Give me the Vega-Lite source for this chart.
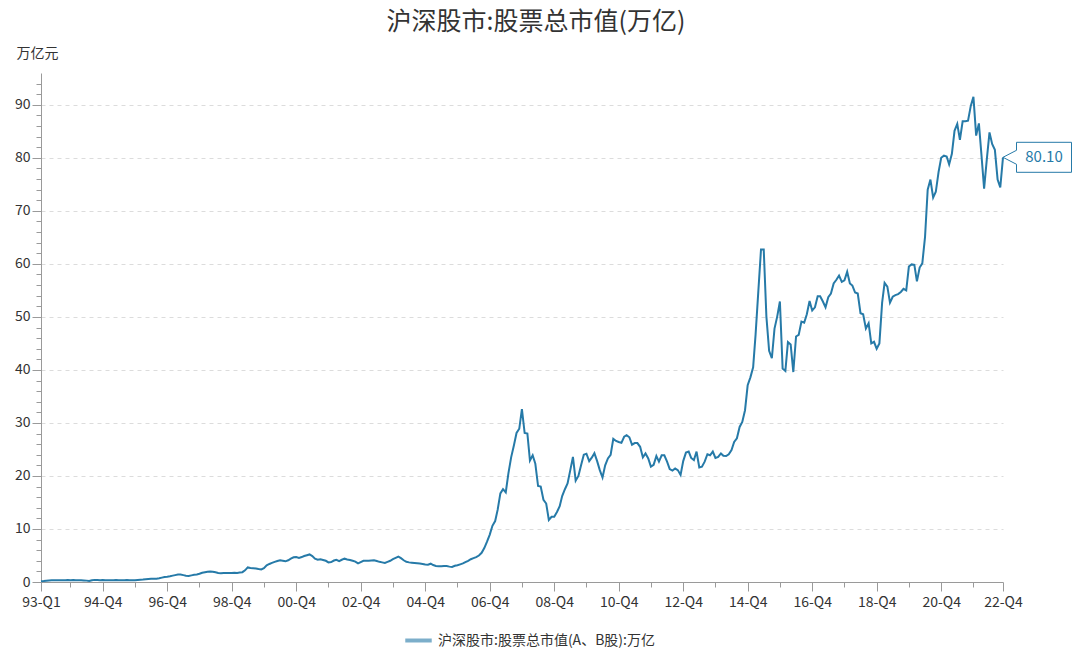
{
"$schema": "https://vega.github.io/schema/vega-lite/v6.json",
"width": 962, "height": 509,
"autosize": {"type": "none"},
"padding": {"left": 41, "top": 73, "right": 77, "bottom": 68},
"background": "white",
"config": {"font": "Noto Sans CJK SC", "view": {"stroke": null}},
"title": {"text": "沪深股市:股票总市值(万亿)", "fontSize": 25, "fontWeight": "normal", "color": "#333333", "anchor": "middle", "dx": 14, "offset": 11},
"data": {"format": {"parse": {"date": "date:'%Y-%m'"}}, "values": [
{"date":"1993-01","value":0.12},{"date":"1993-02","value":0.18},{"date":"1993-03","value":0.25},{"date":"1993-04","value":0.3},{"date":"1993-05","value":0.33},{"date":"1993-06","value":0.32},{"date":"1993-07","value":0.31},{"date":"1993-08","value":0.32},{"date":"1993-09","value":0.33},{"date":"1993-10","value":0.35},{"date":"1993-11","value":0.36},{"date":"1993-12","value":0.35},
{"date":"1994-01","value":0.36},{"date":"1994-02","value":0.34},{"date":"1994-03","value":0.33},{"date":"1994-04","value":0.31},{"date":"1994-05","value":0.3},{"date":"1994-06","value":0.26},{"date":"1994-07","value":0.18},{"date":"1994-08","value":0.34},{"date":"1994-09","value":0.4},{"date":"1994-10","value":0.37},{"date":"1994-11","value":0.35},{"date":"1994-12","value":0.37},
{"date":"1995-01","value":0.35},{"date":"1995-02","value":0.33},{"date":"1995-03","value":0.33},{"date":"1995-04","value":0.34},{"date":"1995-05","value":0.38},{"date":"1995-06","value":0.35},{"date":"1995-07","value":0.34},{"date":"1995-08","value":0.35},{"date":"1995-09","value":0.36},{"date":"1995-10","value":0.35},{"date":"1995-11","value":0.33},{"date":"1995-12","value":0.34},
{"date":"1996-01","value":0.38},{"date":"1996-02","value":0.42},{"date":"1996-03","value":0.46},{"date":"1996-04","value":0.52},{"date":"1996-05","value":0.56},{"date":"1996-06","value":0.6},{"date":"1996-07","value":0.62},{"date":"1996-08","value":0.63},{"date":"1996-09","value":0.7},{"date":"1996-10","value":0.82},{"date":"1996-11","value":0.95},{"date":"1996-12","value":1.0},
{"date":"1997-01","value":1.08},{"date":"1997-02","value":1.2},{"date":"1997-03","value":1.3},{"date":"1997-04","value":1.4},{"date":"1997-05","value":1.4},{"date":"1997-06","value":1.3},{"date":"1997-07","value":1.2},{"date":"1997-08","value":1.15},{"date":"1997-09","value":1.25},{"date":"1997-10","value":1.35},{"date":"1997-11","value":1.4},{"date":"1997-12","value":1.55},
{"date":"1998-01","value":1.75},{"date":"1998-02","value":1.85},{"date":"1998-03","value":1.95},{"date":"1998-04","value":2.0},{"date":"1998-05","value":1.95},{"date":"1998-06","value":1.85},{"date":"1998-07","value":1.7},{"date":"1998-08","value":1.65},{"date":"1998-09","value":1.7},{"date":"1998-10","value":1.72},{"date":"1998-11","value":1.7},{"date":"1998-12","value":1.7},
{"date":"1999-01","value":1.75},{"date":"1999-02","value":1.72},{"date":"1999-03","value":1.8},{"date":"1999-04","value":1.85},{"date":"1999-05","value":2.2},{"date":"1999-06","value":2.75},{"date":"1999-07","value":2.65},{"date":"1999-08","value":2.6},{"date":"1999-09","value":2.55},{"date":"1999-10","value":2.45},{"date":"1999-11","value":2.38},{"date":"1999-12","value":2.6},
{"date":"2000-01","value":3.15},{"date":"2000-02","value":3.4},{"date":"2000-03","value":3.6},{"date":"2000-04","value":3.8},{"date":"2000-05","value":3.95},{"date":"2000-06","value":4.1},{"date":"2000-07","value":4.0},{"date":"2000-08","value":3.9},{"date":"2000-09","value":4.1},{"date":"2000-10","value":4.4},{"date":"2000-11","value":4.65},{"date":"2000-12","value":4.7},
{"date":"2001-01","value":4.55},{"date":"2001-02","value":4.7},{"date":"2001-03","value":4.9},{"date":"2001-04","value":5.05},{"date":"2001-05","value":5.2},{"date":"2001-06","value":4.9},{"date":"2001-07","value":4.4},{"date":"2001-08","value":4.2},{"date":"2001-09","value":4.3},{"date":"2001-10","value":4.15},{"date":"2001-11","value":4.0},{"date":"2001-12","value":3.7},
{"date":"2002-01","value":3.75},{"date":"2002-02","value":4.05},{"date":"2002-03","value":4.2},{"date":"2002-04","value":3.95},{"date":"2002-05","value":4.2},{"date":"2002-06","value":4.4},{"date":"2002-07","value":4.25},{"date":"2002-08","value":4.15},{"date":"2002-09","value":4.0},{"date":"2002-10","value":3.85},{"date":"2002-11","value":3.5},{"date":"2002-12","value":3.75},
{"date":"2003-01","value":4.0},{"date":"2003-02","value":4.0},{"date":"2003-03","value":4.0},{"date":"2003-04","value":4.05},{"date":"2003-05","value":4.1},{"date":"2003-06","value":3.95},{"date":"2003-07","value":3.8},{"date":"2003-08","value":3.7},{"date":"2003-09","value":3.6},{"date":"2003-10","value":3.8},{"date":"2003-11","value":4.0},{"date":"2003-12","value":4.3},
{"date":"2004-01","value":4.55},{"date":"2004-02","value":4.8},{"date":"2004-03","value":4.5},{"date":"2004-04","value":4.1},{"date":"2004-05","value":3.8},{"date":"2004-06","value":3.7},{"date":"2004-07","value":3.65},{"date":"2004-08","value":3.6},{"date":"2004-09","value":3.55},{"date":"2004-10","value":3.5},{"date":"2004-11","value":3.4},{"date":"2004-12","value":3.3},
{"date":"2005-01","value":3.27},{"date":"2005-02","value":3.45},{"date":"2005-03","value":3.2},{"date":"2005-04","value":3.02},{"date":"2005-05","value":2.98},{"date":"2005-06","value":2.96},{"date":"2005-07","value":3.0},{"date":"2005-08","value":3.02},{"date":"2005-09","value":2.9},{"date":"2005-10","value":2.83},{"date":"2005-11","value":3.05},{"date":"2005-12","value":3.15},
{"date":"2006-01","value":3.33},{"date":"2006-02","value":3.5},{"date":"2006-03","value":3.75},{"date":"2006-04","value":4.0},{"date":"2006-05","value":4.3},{"date":"2006-06","value":4.5},{"date":"2006-07","value":4.7},{"date":"2006-08","value":5.0},{"date":"2006-09","value":5.5},{"date":"2006-10","value":6.4},{"date":"2006-11","value":7.6},{"date":"2006-12","value":8.9},
{"date":"2007-01","value":10.6},{"date":"2007-02","value":11.5},{"date":"2007-03","value":13.6},{"date":"2007-04","value":16.7},{"date":"2007-05","value":17.5},{"date":"2007-06","value":16.9},{"date":"2007-07","value":20.5},{"date":"2007-08","value":23.5},{"date":"2007-09","value":25.75},{"date":"2007-10","value":28.1},{"date":"2007-11","value":28.9},{"date":"2007-12","value":32.6},
{"date":"2008-01","value":28.1},{"date":"2008-02","value":28.0},{"date":"2008-03","value":22.9},{"date":"2008-04","value":23.9},{"date":"2008-05","value":22.3},{"date":"2008-06","value":18.1},{"date":"2008-07","value":18.0},{"date":"2008-08","value":15.5},{"date":"2008-09","value":14.8},{"date":"2008-10","value":11.7},{"date":"2008-11","value":12.3},{"date":"2008-12","value":12.3},
{"date":"2009-01","value":13.2},{"date":"2009-02","value":14.3},{"date":"2009-03","value":16.2},{"date":"2009-04","value":17.5},{"date":"2009-05","value":18.6},{"date":"2009-06","value":21.1},{"date":"2009-07","value":23.6},{"date":"2009-08","value":19.1},{"date":"2009-09","value":20.0},{"date":"2009-10","value":22.0},{"date":"2009-11","value":24.0},{"date":"2009-12","value":24.2},
{"date":"2010-01","value":22.8},{"date":"2010-02","value":23.5},{"date":"2010-03","value":24.3},{"date":"2010-04","value":22.8},{"date":"2010-05","value":21.1},{"date":"2010-06","value":19.7},{"date":"2010-07","value":22.0},{"date":"2010-08","value":23.3},{"date":"2010-09","value":24.0},{"date":"2010-10","value":27.0},{"date":"2010-11","value":26.6},{"date":"2010-12","value":26.4},
{"date":"2011-01","value":26.25},{"date":"2011-02","value":27.4},{"date":"2011-03","value":27.7},{"date":"2011-04","value":27.3},{"date":"2011-05","value":25.9},{"date":"2011-06","value":26.2},{"date":"2011-07","value":26.2},{"date":"2011-08","value":25.5},{"date":"2011-09","value":23.5},{"date":"2011-10","value":24.25},{"date":"2011-11","value":23.3},{"date":"2011-12","value":21.75},
{"date":"2012-01","value":22.1},{"date":"2012-02","value":23.75},{"date":"2012-03","value":22.7},{"date":"2012-04","value":23.9},{"date":"2012-05","value":23.9},{"date":"2012-06","value":22.7},{"date":"2012-07","value":21.3},{"date":"2012-08","value":21.0},{"date":"2012-09","value":21.4},{"date":"2012-10","value":21.1},{"date":"2012-11","value":20.2},{"date":"2012-12","value":22.8},
{"date":"2013-01","value":24.4},{"date":"2013-02","value":24.6},{"date":"2013-03","value":23.4},{"date":"2013-04","value":23.0},{"date":"2013-05","value":24.6},{"date":"2013-06","value":21.6},{"date":"2013-07","value":21.75},{"date":"2013-08","value":22.7},{"date":"2013-09","value":24.1},{"date":"2013-10","value":23.9},{"date":"2013-11","value":24.6},{"date":"2013-12","value":23.4},
{"date":"2014-01","value":23.6},{"date":"2014-02","value":24.25},{"date":"2014-03","value":23.8},{"date":"2014-04","value":23.75},{"date":"2014-05","value":24.1},{"date":"2014-06","value":24.9},{"date":"2014-07","value":26.4},{"date":"2014-08","value":27.1},{"date":"2014-09","value":29.25},{"date":"2014-10","value":30.2},{"date":"2014-11","value":32.4},{"date":"2014-12","value":37.1},
{"date":"2015-01","value":38.6},{"date":"2015-02","value":40.5},{"date":"2015-03","value":46.75},{"date":"2015-04","value":54.9},{"date":"2015-05","value":62.7},{"date":"2015-06","value":62.7},{"date":"2015-07","value":50.1},{"date":"2015-08","value":43.6},{"date":"2015-09","value":42.2},{"date":"2015-10","value":47.8},{"date":"2015-11","value":50.1},{"date":"2015-12","value":52.9},
{"date":"2016-01","value":40.25},{"date":"2016-02","value":39.8},{"date":"2016-03","value":45.25},{"date":"2016-04","value":44.8},{"date":"2016-05","value":39.6},{"date":"2016-06","value":46.3},{"date":"2016-07","value":46.6},{"date":"2016-08","value":49.1},{"date":"2016-09","value":48.9},{"date":"2016-10","value":50.5},{"date":"2016-11","value":53.0},{"date":"2016-12","value":51.2},
{"date":"2017-01","value":51.8},{"date":"2017-02","value":53.9},{"date":"2017-03","value":53.9},{"date":"2017-04","value":52.9},{"date":"2017-05","value":51.8},{"date":"2017-06","value":53.7},{"date":"2017-07","value":54.4},{"date":"2017-08","value":56.3},{"date":"2017-09","value":57.0},{"date":"2017-10","value":57.8},{"date":"2017-11","value":56.6},{"date":"2017-12","value":56.9},
{"date":"2018-01","value":58.5},{"date":"2018-02","value":56.3},{"date":"2018-03","value":55.9},{"date":"2018-04","value":54.6},{"date":"2018-05","value":54.4},{"date":"2018-06","value":50.7},{"date":"2018-07","value":50.5},{"date":"2018-08","value":47.8},{"date":"2018-09","value":48.8},{"date":"2018-10","value":45.0},{"date":"2018-11","value":45.3},{"date":"2018-12","value":44.0},
{"date":"2019-01","value":45.0},{"date":"2019-02","value":52.7},{"date":"2019-03","value":56.4},{"date":"2019-04","value":55.7},{"date":"2019-05","value":52.7},{"date":"2019-06","value":53.8},{"date":"2019-07","value":54.1},{"date":"2019-08","value":54.3},{"date":"2019-09","value":54.7},{"date":"2019-10","value":55.3},{"date":"2019-11","value":55.0},{"date":"2019-12","value":59.5},
{"date":"2020-01","value":59.9},{"date":"2020-02","value":59.8},{"date":"2020-03","value":56.7},{"date":"2020-04","value":59.3},{"date":"2020-05","value":60.1},{"date":"2020-06","value":65.1},{"date":"2020-07","value":74.0},{"date":"2020-08","value":75.9},{"date":"2020-09","value":72.5},{"date":"2020-10","value":73.6},{"date":"2020-11","value":77.3},{"date":"2020-12","value":80.0},
{"date":"2021-01","value":80.4},{"date":"2021-02","value":80.25},{"date":"2021-03","value":78.75},{"date":"2021-04","value":80.75},{"date":"2021-05","value":85.1},{"date":"2021-06","value":86.4},{"date":"2021-07","value":83.4},{"date":"2021-08","value":86.9},{"date":"2021-09","value":86.9},{"date":"2021-10","value":87.0},{"date":"2021-11","value":89.8},{"date":"2021-12","value":91.5},
{"date":"2022-01","value":84.2},{"date":"2022-02","value":86.5},{"date":"2022-03","value":80.75},{"date":"2022-04","value":74.2},{"date":"2022-05","value":79.6},{"date":"2022-06","value":84.8},{"date":"2022-07","value":82.6},{"date":"2022-08","value":81.5},{"date":"2022-09","value":75.9},{"date":"2022-10","value":74.4},{"date":"2022-11","value":80.1}
]},
"encoding": {
  "x": {"field": "date", "type": "temporal",
    "scale": {"domain": [{"year": 1993, "month": 1, "date": 1}, {"year": 2022, "month": 11, "date": 1}], "nice": false},
    "axis": {"title": null, "grid": false,
      "values": [{"year":1993,"month":1,"date":1},{"year":1993,"month":12,"date":1},{"year":1994,"month":12,"date":1},{"year":1995,"month":12,"date":1},{"year":1996,"month":12,"date":1},{"year":1997,"month":12,"date":1},{"year":1998,"month":12,"date":1},{"year":1999,"month":12,"date":1},{"year":2000,"month":12,"date":1},{"year":2001,"month":12,"date":1},{"year":2002,"month":12,"date":1},{"year":2003,"month":12,"date":1},{"year":2004,"month":12,"date":1},{"year":2005,"month":12,"date":1},{"year":2006,"month":12,"date":1},{"year":2007,"month":12,"date":1},{"year":2008,"month":12,"date":1},{"year":2009,"month":12,"date":1},{"year":2010,"month":12,"date":1},{"year":2011,"month":12,"date":1},{"year":2012,"month":12,"date":1},{"year":2013,"month":12,"date":1},{"year":2014,"month":12,"date":1},{"year":2015,"month":12,"date":1},{"year":2016,"month":12,"date":1},{"year":2017,"month":12,"date":1},{"year":2018,"month":12,"date":1},{"year":2019,"month":12,"date":1},{"year":2020,"month":12,"date":1},{"year":2021,"month":12,"date":1},{"year":2022,"month":11,"date":1}],
      "labelExpr": "(month(datum.value) == 0 || year(datum.value) % 2 == 0) ? timeFormat(datum.value, '%y') + '-Q' + quarter(datum.value) : ''",
      "labelOverlap": false, "labelFlush": false, "labelFontSize": 14, "labelColor": "#333333", "labelPadding": 4,
      "domainColor": "#9a9a9a", "tickColor": "#9a9a9a",
      "tickSize": {"condition": {"test": "month(datum.value) == 0 || year(datum.value) % 2 == 0", "value": 9}, "value": 5}
    }
  },
  "y": {"field": "value", "type": "quantitative",
    "scale": {"domain": [0, 96], "nice": false},
    "axis": {"title": "万亿元", "titleAngle": 0, "titleX": -25, "titleY": -20, "titleAlign": "left", "titleBaseline": "middle", "titleFontSize": 14, "titleFontWeight": "normal", "titleColor": "#333333",
      "values": [0,2,4,6,8,10,12,14,16,18,20,22,24,26,28,30,32,34,36,38,40,42,44,46,48,50,52,54,56,58,60,62,64,66,68,70,72,74,76,78,80,82,84,86,88,90,92,94],
      "labelExpr": "datum.value % 10 === 0 ? datum.label : ''",
      "labelFontSize": 14, "labelColor": "#333333", "labelPadding": 2,
      "grid": true, "gridDash": [4, 4], "gridColor": "#dcdcdc",
      "gridOpacity": {"condition": {"test": "datum.value % 10 === 0 && datum.value > 0", "value": 1}, "value": 0},
      "domainColor": "#9a9a9a", "tickColor": "#9a9a9a",
      "tickSize": {"condition": {"test": "datum.value % 10 === 0", "value": 9}, "value": 5}
    }
  }
},
"layer": [
  {"mark": {"type": "line", "strokeWidth": 2},
   "encoding": {"color": {"datum": "沪深股市:股票总市值(A、B股):万亿", "type": "nominal", "scale": {"range": ["#267aa8"]},
     "legend": {"orient": "none", "legendX": 362, "legendY": 552, "title": null, "direction": "horizontal", "symbolType": "stroke", "symbolSize": 700, "symbolStrokeWidth": 4, "symbolOpacity": 0.6, "labelFontSize": 14, "labelColor": "#333333", "labelLimit": 500}}}},
  {"transform": [{"window": [{"op": "row_number", "as": "rn"}], "sort": [{"field": "date", "order": "descending"}]}, {"filter": "datum.rn === 1"}],
   "mark": {"type": "point", "shape": "M0,0L13.5,-7L13.5,-15L68.5,-15L68.5,15L13.5,15L13.5,7Z", "size": 4, "filled": true, "fill": "white", "stroke": "#267aa8", "strokeWidth": 1, "opacity": 1, "clip": false}},
  {"transform": [{"window": [{"op": "row_number", "as": "rn"}], "sort": [{"field": "date", "order": "descending"}]}, {"filter": "datum.rn === 1"}],
   "mark": {"type": "text", "dx": 41, "align": "center", "baseline": "middle", "fontSize": 15, "color": "#267aa8"},
   "encoding": {"text": {"field": "value", "type": "quantitative", "format": ".2f"}}}
]
}
